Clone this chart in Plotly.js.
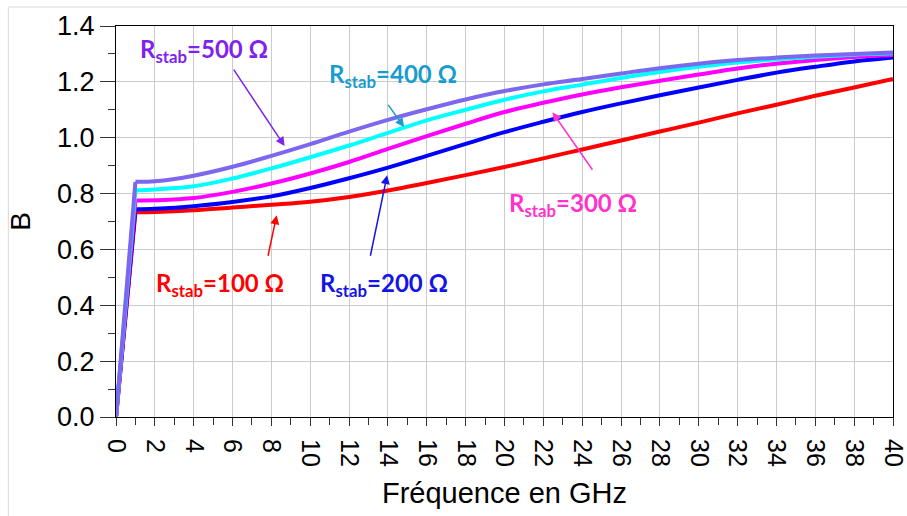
<!DOCTYPE html>
<html>
<head>
<meta charset="utf-8">
<script src="https://cdn.plot.ly/plotly-3.0.1.min.js"></script>
<style>html,body{margin:0;padding:0;background:#fff;}#chart{width:907px;height:516px;}</style>
</head>
<body>
<div id="chart"></div>
<script>
// Frequency (GHz)
const freq = [0,1,2,4,6,8,10,12,14,16,18,20,22,24,26,28,30,32,34,36,38,40];
// B values for each R_stab
const b100 = [0,0.733,0.734,0.740,0.750,0.760,0.771,0.788,0.811,0.838,0.866,0.895,0.926,0.958,0.990,1.022,1.054,1.087,1.118,1.150,1.180,1.210];
const b200 = [0,0.744,0.746,0.755,0.770,0.790,0.820,0.855,0.893,0.935,0.978,1.020,1.057,1.092,1.123,1.152,1.180,1.207,1.233,1.254,1.273,1.287];
const b300 = [0,0.775,0.776,0.784,0.806,0.836,0.872,0.913,0.960,1.006,1.050,1.092,1.125,1.155,1.181,1.204,1.226,1.248,1.265,1.278,1.289,1.296];
const b400 = [0,0.812,0.815,0.826,0.854,0.890,0.930,0.972,1.017,1.062,1.100,1.136,1.166,1.190,1.214,1.235,1.254,1.269,1.281,1.290,1.297,1.302];
const b500 = [0,0.842,0.844,0.864,0.896,0.935,0.977,1.022,1.064,1.102,1.137,1.167,1.191,1.210,1.230,1.249,1.265,1.278,1.287,1.294,1.300,1.305];
const seriesNames = ["R_stab=100 Ω","R_stab=200 Ω","R_stab=300 Ω","R_stab=400 Ω","R_stab=500 Ω"];
const labels = ["R<sub>stab</sub>=100 Ω","R<sub>stab</sub>=200 Ω","R<sub>stab</sub>=300 Ω","R<sub>stab</sub>=400 Ω","R<sub>stab</sub>=500 Ω"];
const xTitle = "Fréquence en GHz";
const yTitle = "B";

const lineColors = ["#FF0000","#0000FF","#FF00FF","#00FFFF","#7B68EE"];
const textColors = ["#FF0000","#1414E6","#FF33CC","#1A9BD0","#7F22F0"];
const all = [b100,b200,b300,b400,b500];

const traces = [];
all.forEach((ys,i)=>{
  // steep initial rise (sharp corner at 1 GHz)
  traces.push({x: freq.slice(0,2), y: ys.slice(0,2), type:'scatter', mode:'lines', name: seriesNames[i],
    line:{color: lineColors[i], width:4}, hoverinfo:'skip'});
  // smooth remainder
  traces.push({x: freq.slice(1), y: ys.slice(1), type:'scatter', mode:'lines', name: seriesNames[i],
    line:{color: lineColors[i], width:4, shape:'spline', smoothing:1}, hoverinfo:'skip'});
});

// label positions (data coords) and arrow tail/head
const labelPos = [[5.35,0.475],[13.8,0.475],[23.52,0.760],[14.27,1.224],[4.53,1.313]];
const arrowTail = [[7.81,0.572],[13.08,0.572],[24.58,0.880],[13.96,1.123],[6.01,1.249]];
const arrowHead = [[8.27,0.722],[13.96,0.866],[22.47,1.091],[14.83,1.038],[8.68,0.970]];

const annFont = {family:'Lato, "Open Sans", sans-serif', size:24};
const annotations = [];
labels.forEach((t,i)=>{
  annotations.push({x:labelPos[i][0], y:labelPos[i][1], xref:'x', yref:'y',
    text:'<b>'+t+'</b>', showarrow:false, xanchor:'center', yanchor:'middle',
    font:Object.assign({}, annFont, {color:textColors[i]})});
  annotations.push({x:arrowHead[i][0], y:arrowHead[i][1], xref:'x', yref:'y',
    ax:arrowTail[i][0], ay:arrowTail[i][1], axref:'x', ayref:'y',
    text:'', showarrow:true, arrowhead:2, arrowsize:1.2, arrowwidth:1.5,
    arrowcolor:textColors[i], standoff:0, startstandoff:0});
});

const yTickFont = {family:'"Liberation Sans", Arial, sans-serif', size:27, color:'#000'};
const xTickFont = {family:'"Liberation Sans", Arial, sans-serif', size:25, color:'#000'};

const L = 115.7, R = 14, T = 26, B = 99;
const PW = 907 - L - R, PH = 516 - T - B;

const layout = {
  width:907, height:516,
  margin:{l:L, r:R, t:T, b:B},
  paper_bgcolor:'#fff', plot_bgcolor:'#fff',
  showlegend:false,
  xaxis:{
    range:[0,40], dtick:2, tick0:0, tickangle:90,
    showgrid:true, gridcolor:'#CCCCCC', gridwidth:1,
    showline:true, linecolor:'#000', linewidth:1, mirror:true,
    ticks:'outside', ticklen:8, tickcolor:'#333', tickwidth:1,
    ticklabelstandoff:8, ticklabeloverflow:'allow',
    minor:{dtick:1, ticks:'outside', ticklen:7, tickcolor:'#333', showgrid:false},
    tickfont:xTickFont, zeroline:false,
    title:{text:xTitle, font:{family:'"Liberation Sans", Arial, sans-serif', size:29, color:'#000'}, standoff:16},
    automargin:false
  },
  yaxis:{
    range:[0,1.4], dtick:0.2, tick0:0, tickformat:'.1f',
    showgrid:true, gridcolor:'#CCCCCC', gridwidth:1,
    showline:true, linecolor:'#000', linewidth:1, mirror:true,
    ticks:'outside', ticklen:15, tickcolor:'#333', tickwidth:1,
    ticklabeloverflow:'allow',
    minor:{dtick:0.1, ticks:'outside', ticklen:7, tickcolor:'#333', showgrid:false},
    tickfont:yTickFont, zeroline:false,
    title:{text:yTitle, font:{family:'"Liberation Sans", Arial, sans-serif', size:28, color:'#000'}, standoff:18},
    automargin:false
  },
  annotations: annotations,
  shapes:[{type:'rect', xref:'paper', yref:'paper',
    x0:(8-L)/PW, x1:(930-L)/PW, y0:(516-B-540)/PH, y1:(516-B-7)/PH,
    line:{color:'#D9D9D9', width:1}, fillcolor:'rgba(0,0,0,0)', layer:'below'}]
};

Plotly.newPlot('chart', traces, layout, {staticPlot:true, displayModeBar:false});
</script>
</body>
</html>
